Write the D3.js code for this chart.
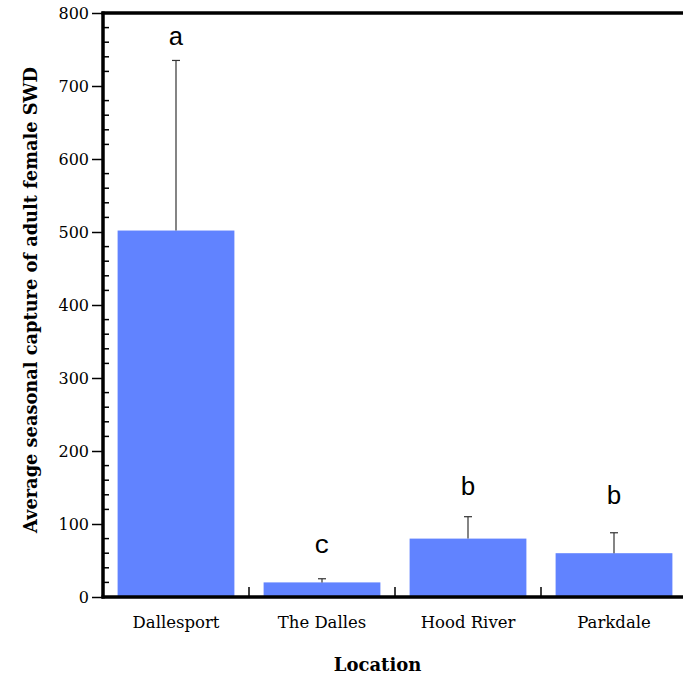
<!DOCTYPE html>
<html>
<head>
<meta charset="utf-8">
<script src="https://cdn.jsdelivr.net/npm/d3@7"></script>
<style>
  body { margin: 0; background: #fff; }
  text { font-family: "DejaVu Serif", "Liberation Serif", serif; }
</style>
</head>
<body>
<div id="graph"></div>
<script>
const locations = ['Dallesport', 'The Dalles', 'Hood River', 'Parkdale']
const means = [502, 20, 80, 60]
const upperErr = [735, 25, 110, 88]
const letters = ['a', 'c', 'b', 'b']
const letterAt = [756, 60, 140, 128]
const yTicks = [0, 100, 200, 300, 400, 500, 600, 700, 800]

const W = 683, H = 676
const margin = {top: 13, right: -4, bottom: 79, left: 103}
const width = W - margin.left - margin.right
const height = H - margin.top - margin.bottom

const svg = d3.select('#graph').append('svg')
  .attr('width', W).attr('height', H)
  .append('g')
  .attr('transform', `translate(${margin.left},${margin.top})`)

const x = d3.scaleBand().domain(locations).range([0, width]).paddingInner(0.2).paddingOuter(0.1)
const xb = d3.scaleBand().domain(locations).range([0, width])
const y = d3.scaleLinear().domain([0, 800]).range([height, 0])

// bars
svg.selectAll('.bar')
  .data(locations)
  .enter().append('rect')
  .attr('x', d => x(d))
  .attr('y', (d, i) => y(means[i]))
  .attr('width', x.bandwidth())
  .attr('height', (d, i) => height - y(means[i]))
  .attr('fill', '#6183ff')

// error bars (upper only)
const eb = svg.selectAll('.err').data(locations).enter().append('g')
eb.append('line')
  .attr('x1', d => x(d) + x.bandwidth() / 2)
  .attr('x2', d => x(d) + x.bandwidth() / 2)
  .attr('y1', (d, i) => y(means[i]))
  .attr('y2', (d, i) => y(upperErr[i]))
  .attr('stroke', '#333').attr('stroke-width', 1.2)
eb.append('line')
  .attr('x1', d => x(d) + x.bandwidth() / 2 - 4)
  .attr('x2', d => x(d) + x.bandwidth() / 2 + 4)
  .attr('y1', (d, i) => y(upperErr[i]))
  .attr('y2', (d, i) => y(upperErr[i]))
  .attr('stroke', '#333').attr('stroke-width', 1.2)

// letters
svg.selectAll('.letter').data(locations).enter().append('text')
  .attr('x', d => x(d) + x.bandwidth() / 2)
  .attr('y', (d, i) => y(letterAt[i]))
  .attr('text-anchor', 'middle')
  .style('font-family', '"Liberation Mono", "DejaVu Sans Mono", monospace')
  .style('font-size', '26px')
  .text((d, i) => letters[i])

// y axis
const yAxis = svg.append('g')
  .call(d3.axisLeft(y).tickValues(yTicks).tickSize(11).tickPadding(3).tickFormat(d3.format('d')))
yAxis.select('.domain').remove()
yAxis.selectAll('.tick line').attr('stroke', '#000').attr('stroke-width', 1.5)
yAxis.selectAll('.tick text')
  .style('font-family', '"DejaVu Serif", serif')
  .style('font-size', '16px').attr('fill', '#000')

// minor ticks inside
svg.append('g').selectAll('line')
  .data(d3.range(0, 801, 20).filter(v => v % 100 !== 0))
  .enter().append('line')
  .attr('x1', 0).attr('x2', 6)
  .attr('y1', d => y(d)).attr('y2', d => y(d))
  .attr('stroke', '#000').attr('stroke-width', 1.5)

// frame lines
svg.append('line').attr('x1', 0).attr('x2', 0).attr('y1', -1.5).attr('y2', height + 1.5)
  .attr('stroke', '#000').attr('stroke-width', 3.5)
svg.append('line').attr('x1', -1.5).attr('x2', width).attr('y1', 0).attr('y2', 0)
  .attr('stroke', '#000').attr('stroke-width', 3.5)
svg.append('line').attr('x1', -1.5).attr('x2', width).attr('y1', height).attr('y2', height)
  .attr('stroke', '#000').attr('stroke-width', 3.5)

// x axis ticks between categories (pointing up)
svg.append('g').selectAll('line')
  .data(locations.slice(1))
  .enter().append('line')
  .attr('x1', d => xb(d)).attr('x2', d => xb(d))
  .attr('y1', height).attr('y2', height - 10)
  .attr('stroke', '#000').attr('stroke-width', 1.5)

// category labels
svg.selectAll('.cat').data(locations).enter().append('text')
  .attr('x', d => x(d) + x.bandwidth() / 2)
  .attr('y', height + 31)
  .attr('text-anchor', 'middle')
  .style('font-size', '16.5px')
  .text(d => d)

// axis titles
svg.append('text')
  .attr('x', x('Hood River') - 32)
  .attr('y', height + 74)
  .attr('text-anchor', 'middle')
  .style('font-size', '18px').style('font-weight', 'bold')
  .text('Location')

svg.append('text')
  .attr('transform', 'rotate(-90)')
  .attr('x', -(height / 2) + 5)
  .attr('y', -margin.left + 37)
  .attr('text-anchor', 'middle')
  .style('font-size', '17.8px').style('font-weight', 'bold')
  .text('Average seasonal capture of adult female SWD')
</script>
</body>
</html>
